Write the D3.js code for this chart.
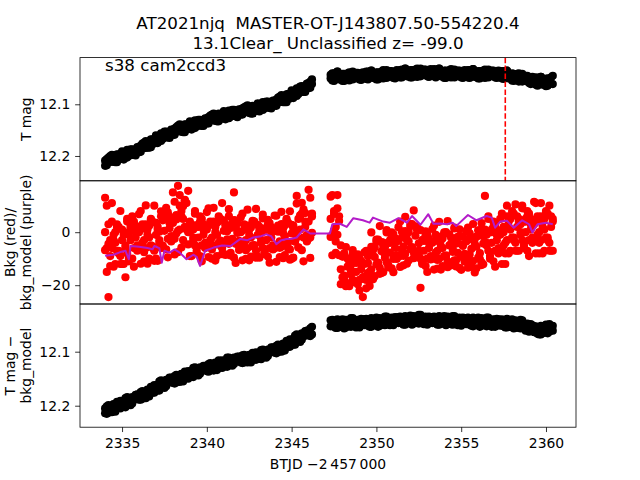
<!DOCTYPE html>
<html><head><meta charset="utf-8">
<script src="https://cdn.jsdelivr.net/npm/d3@7"></script>
<style>body{margin:0;background:#fff}</style>
</head><body><svg id="c" width="640" height="480"></svg>
<script>
// ---------------- data ----------------
const btjd = [
2334.0,2334.1,2334.2,2334.3,2334.4,2334.5,2334.6,2334.7,2334.8,2334.9,
2335.0,2335.1,2335.2,2335.3,2335.4,2335.5,2335.6,2335.7,2335.8,2335.9,
2336.0,2336.1,2336.2,2336.3,2336.4,2336.5,2336.6,2336.7,2336.8,2336.9,
2337.0,2337.1,2337.2,2337.3,2337.4,2337.5,2337.6,2337.7,2337.8,2337.9,
2338.0,2338.1,2338.2,2338.3,2338.4,2338.5,2338.6,2338.7,2338.8,2338.9,
2339.0,2339.1,2339.2,2339.3,2339.4,2339.5,2339.6,2339.7,2339.8,2339.9,
2340.0,2340.1,2340.2,2340.3,2340.4,2340.5,2340.6,2340.7,2340.8,2340.9,
2341.0,2341.1,2341.2,2341.3,2341.4,2341.5,2341.6,2341.7,2341.8,2341.9,
2342.0,2342.1,2342.2,2342.3,2342.4,2342.5,2342.6,2342.7,2342.8,2342.9,
2343.0,2343.1,2343.2,2343.3,2343.4,2343.5,2343.6,2343.7,2343.8,2343.9,
2344.0,2344.1,2344.2,2344.3,2344.4,2344.5,2344.6,2344.7,2344.8,2344.9,
2345.0,2345.1,2345.2,2345.3,2345.4,2345.5,2345.6,2345.7,2345.8,2345.9,
2346.0,2346.1,2346.2,
2347.3,2347.4,2347.5,2347.6,2347.7,2347.8,2347.9,
2348.0,2348.1,2348.2,2348.3,2348.4,2348.5,2348.6,2348.7,2348.8,2348.9,
2349.0,2349.1,2349.2,2349.3,2349.4,2349.5,2349.6,2349.7,2349.8,2349.9,
2350.0,2350.1,2350.2,2350.3,2350.4,2350.5,2350.6,2350.7,2350.8,2350.9,
2351.0,2351.1,2351.2,2351.3,2351.4,2351.5,2351.6,2351.7,2351.8,2351.9,
2352.0,2352.1,2352.2,2352.3,2352.4,2352.5,2352.6,2352.7,2352.8,2352.9,
2353.0,2353.1,2353.2,2353.3,2353.4,2353.5,2353.6,2353.7,2353.8,2353.9,
2354.0,2354.1,2354.2,2354.3,2354.4,2354.5,2354.6,2354.7,2354.8,2354.9,
2355.0,2355.1,2355.2,2355.3,2355.4,2355.5,2355.6,2355.7,2355.8,2355.9,
2356.0,2356.1,2356.2,2356.3,2356.4,2356.5,2356.6,2356.7,2356.8,2356.9,
2357.0,2357.1,2357.2,2357.3,2357.4,2357.5,2357.6,2357.7,2357.8,2357.9,
2358.0,2358.1,2358.2,2358.3,2358.4,2358.5,2358.6,2358.7,2358.8,2358.9,
2359.0,2359.1,2359.2,2359.3,2359.4,2359.5,2359.6,2359.7,2359.8,2359.9,
2360.0,2360.1,2360.2,2360.3,2360.4];

// T mag, two readings per timestamp (upper and lower part of the band)
const tmag = [
12.219,12.206,12.212,12.200,12.211,12.203,12.212,12.197,12.202,12.206,
12.191,12.202,12.194,12.203,12.194,12.187,12.198,12.188,12.199,12.183,
12.193,12.180,12.185,12.174,12.184,12.176,12.184,12.168,12.173,12.176,
12.160,12.170,12.161,12.171,12.161,12.153,12.164,12.154,12.165,12.149,
12.159,12.147,12.153,12.141,12.152,12.145,12.154,12.139,12.144,12.148,
12.133,12.144,12.136,12.146,12.137,12.130,12.141,12.132,12.142,12.127,
12.137,12.125,12.131,12.120,12.131,12.124,12.133,12.118,12.124,12.128,
12.113,12.124,12.116,12.127,12.118,12.111,12.122,12.113,12.125,12.110,
12.120,12.108,12.115,12.104,12.115,12.109,12.118,12.103,12.109,12.113,
12.098,12.109,12.101,12.111,12.102,12.095,12.106,12.097,12.108,12.093,
12.103,12.091,12.096,12.085,12.095,12.088,12.096,12.081,12.085,12.089,
12.073,12.083,12.074,12.084,12.074,12.066,12.076,12.066,12.076,12.060,
12.069,12.056,12.061,
12.050,12.040,12.055,12.045,12.037,12.051,12.046,12.041,12.055,12.042,
12.052,12.038,12.046,12.052,12.042,12.039,12.049,12.044,12.053,12.038,
12.047,12.037,12.052,12.042,12.035,12.048,12.043,12.038,12.052,12.039,
12.049,12.034,12.043,12.049,12.039,12.036,12.046,12.041,12.050,12.034,
12.044,12.034,12.048,12.038,12.031,12.045,12.039,12.034,12.048,12.035,
12.045,12.031,12.040,12.046,12.036,12.033,12.043,12.038,12.047,12.032,
12.042,12.032,12.048,12.038,12.031,12.045,12.040,12.035,12.049,12.036,
12.046,12.032,12.042,12.048,12.038,12.035,12.045,12.040,12.049,12.034,
12.044,12.034,12.049,12.039,12.032,12.046,12.041,12.036,12.050,12.037,
12.047,12.033,12.042,12.048,12.038,12.035,12.045,12.040,12.049,12.035,
12.045,12.036,12.051,12.041,12.035,12.049,12.045,12.040,12.055,12.042,
12.053,12.040,12.050,12.056,12.047,12.045,12.055,12.051,12.061,12.047,
12.057,12.048,12.064,12.054,12.047,12.061,12.056,12.051,12.064,12.051,
12.060,12.045];
const tmagB = [
12.209,12.218,12.203,12.211,12.198,12.211,12.202,12.212,12.197,12.202,
12.194,12.207,12.200,12.188,12.200,12.197,12.187,12.198,12.189,12.185,
12.183,12.192,12.176,12.185,12.171,12.184,12.174,12.183,12.168,12.172,
12.163,12.175,12.167,12.156,12.167,12.163,12.153,12.164,12.155,12.151,
12.149,12.159,12.144,12.152,12.139,12.153,12.144,12.154,12.139,12.144,
12.136,12.149,12.142,12.131,12.143,12.140,12.130,12.142,12.132,12.129,
12.127,12.137,12.122,12.131,12.118,12.132,12.123,12.133,12.119,12.124,
12.116,12.129,12.122,12.112,12.124,12.121,12.111,12.123,12.115,12.112,
12.110,12.120,12.106,12.115,12.102,12.117,12.108,12.118,12.104,12.109,
12.101,12.114,12.107,12.096,12.108,12.105,12.095,12.107,12.098,12.095,
12.093,12.103,12.087,12.096,12.082,12.096,12.086,12.096,12.080,12.085,
12.076,12.088,12.080,12.069,12.080,12.076,12.065,12.076,12.066,12.062,
12.059,12.068,12.052,
12.043,12.054,12.040,12.050,12.037,12.052,12.044,12.055,12.041,12.047,
12.040,12.054,12.047,12.037,12.050,12.048,12.039,12.052,12.044,12.042,
12.040,12.051,12.037,12.047,12.035,12.049,12.041,12.052,12.038,12.044,
12.037,12.050,12.044,12.034,12.047,12.045,12.036,12.049,12.041,12.038,
12.037,12.048,12.033,12.043,12.031,12.046,12.037,12.048,12.034,12.040,
12.033,12.047,12.041,12.031,12.044,12.042,12.033,12.046,12.038,12.036,
12.035,12.046,12.033,12.043,12.031,12.046,12.038,12.049,12.035,12.041,
12.034,12.048,12.043,12.033,12.046,12.044,12.035,12.048,12.040,12.038,
12.037,12.048,12.034,12.044,12.032,12.047,12.039,12.050,12.036,12.042,
12.035,12.049,12.043,12.033,12.046,12.044,12.035,12.048,12.040,12.039,
12.038,12.050,12.036,12.046,12.035,12.050,12.043,12.054,12.041,12.047,
12.041,12.056,12.051,12.041,12.055,12.054,12.045,12.059,12.052,12.051,
12.050,12.062,12.049,12.059,12.047,12.062,12.054,12.065,12.050,12.056,
12.048,12.061];

// background flux, three readings per timestamp
const bkg = [
13,-15,-24.5,-9,11,-13,0,2,-7,-12,
1,-12,-17,5,-10,1,6,-13,2.4,-6.4,
6.8,-11.9,1.3,-7.5,10.1,-11.9,2.4,4.6,-5.3,-10.8,
3.5,-10.8,0.2,7.9,-5.1,4.8,9.2,-9.5,5.9,-2.9,
15,-8.4,4.8,17.5,14,-5.8,9.8,12.2,1.4,-4.6,
4,-9,1,8,-7,2,6,-11,3,-5,
7.6,-9.4,2.8,-6.5,9.2,-10.7,3.6,4.1,-3.2,-8.3,
4.5,-8.6,0.4,8.7,-7.8,2.5,15,-11.6,3.3,-4.4,
5.6,-10.6,0.9,-6.8,8.5,-10.6,1.8,3.7,-4.9,-9.6,
2.8,-9.6,-0.1,6.6,-7.7,0.9,4.7,-11.5,1.8,-5.8,
6.3,-11.2,0.2,-5.9,7.7,-9.8,2.6,4.5,-3.8,-10.4,
2.8,-9.6,-0.1,13.7,-5.8,5.9,11.1,-11,7.2,-3.2,
16,-9.7,5.9,
13.4,-8.7,6.9,-3.5,14,-8.7,-5,-9.2,-16.4,-20.4,
-10,-20.4,-12.4,-6.8,-18.8,-11.6,-8.4,-22,-10.8,-24.5,
-7.6,-21.2,-11.6,-18,-0.1,-17.8,-5.8,-3.7,-11.5,-15.7,
-3.7,-15.1,-5.8,0.8,-12.4,-4,-0.1,-15.1,-2.3,-9.2,
1.9,-13.1,-2,-8.9,5.8,-11.9,0.1,2.2,-5.6,-9.8,
2.2,-9.2,-4.2,-21,-11.4,-3.3,0.3,-15,-2.4,-9.6,
1.2,-14.1,-3.3,-10.5,3.9,-14.1,-2.4,-0.6,-8.7,-13.2,
-0.8,-12.5,-5.1,1.4,-10.6,-4.2,1.1,-14.2,-1.6,-8.8,
0.5,-13.4,-2.6,-11.2,3.1,-15.2,-1.7,-1.3,-7.9,-12.4,
-1.5,13.7,-1,6,-9,0,4,-13,1,-7,
5,-12,0,-8,10,-8,5,7,-2,-7,
6,-7,3,10,-5,4,8,-9,5,-3,
11.5,-8,4,-4,11,-8,5,7,-2,-7,
6,-7];
const bkgB = [
-6.8,10,-4.4,-12.8,4,-3,-12,3,-8,8,
-12,-1,-5,4,-11,2,-10,4,-2,-7,
-6,8,-4,-11,3,-1,-10,5,-6,10,
-10,1,-3,6,-5.5,5.5,-6.5,7.5,1.5,-3.5,
-2.5,11.5,-0.5,-7.5,10,6,-3,12,1,15.6,
-9,2,-2,7,-8,3,-9,5,-1,-6,
-5,9,-3,-10,4,0,-9,6,-5,11,
-8.2,2.9,-2.7,6.1,-8.8,3.7,-9.6,4.4,-0.3,-6.7,
-5.6,7,-3.8,-10.1,2.5,-1.1,-9.2,4.3,-5.6,8.8,
-9.2,0.7,-2.9,5.2,-8.3,1.6,-9.2,3.4,-2,-6.5,
-6.1,6.2,-4.5,-9.4,3.1,-0.4,-8.6,5.0,-6.2,7.9,
-10.0,1.4,-3.5,10.8,-5.7,6.4,-6.8,8.6,2,-3.5,
-2.4,13,-0.2,
-1.8,14,0.6,-7.8,9,4.2,-19.6,-9.1,-16.8,-5.6,
-19.6,-11.9,-14.7,-8.4,-18.9,-11.2,-19.6,-9.8,-14,-17.5,
-16.8,-7,-15.4,-20.3,-5.5,-8.8,-16.6,-2.8,-12.4,2.3,
-15.4,-5.2,-8.5,-0.1,-13.3,-3.1,-13.6,-0.7,-5.9,-10.1,
-8.9,4,-6.5,-12.5,0.4,-2.9,-10.7,3.1,-6.5,8.2,
-9.5,0.7,-6.9,0.8,-12,-2.6,-12.8,-0.9,-6,-10.3,
-9.4,2.5,-7.7,-13.7,-1.8,-5.2,-12.8,-0.1,-9.4,4.2,
-11.9,-4.4,-6.1,1.7,-12.9,-1.8,-13.5,-1.6,-5.2,-11.1,
-8.6,1.7,-8.4,-12.9,-2.5,-4.4,-13.6,0.7,-10.2,3.4,
-12.1,0,-4,5,-10,1,-11,3,-3,-8,
-7,7,-5,-12,6,2,-7,8,-3,10.5,
-7,4,0,9,-6,5,-7,7,1,-4,
-3,11,-1,-8,6,2,-7,8,-3,10,
-7,4];
const bkgC = [
0,-6,3,-3,-6,-1,-4,-7,2,-9,
-3,0,-6,-8,-1,-3,3,-6,0,-5,
0,-6,3,-3,-6,1,-2,-5,4,-7,
-1,2,-4,-6,4.5,0.5,6.5,-2.5,3.5,-1.5,
3.5,-2.5,6.5,0.5,1,8,5,2,11,0,
0,3,-3,-5,2,-2,4,-5,1,-4,
1,-5,4,-2,-5,2,-1,-4,5,-6,
0.5,2.4,-3.6,-4.4,1.6,-2.5,4.6,-4.4,0.6,-3.3,
0,-6,3,-3,-6,1,-2,-5,4,-7,
-1,2,-4,-6,1,-3,3,-6,0,-5,
0.5,-5.5,2.5,-3.5,-5.5,1.5,-1.5,-4.5,3.5,-6.5,
-0.5,2.5,-3.5,-2,5,1,7,-2,4,-1,
4,-2,7,
5,-1,8,2,-1,6,-14,-17,-8,-19,
-13,-10,-16,-18,-11,-15,-9,-18,-12,-17,
-12,-18,-9,-15,-14,-6.7,-9.4,-12.1,-2.8,-13.5,
-7.2,-3.9,-9.6,-11.3,-4,-7.7,-1.4,-10.1,-3.9,-8.6,
-3.3,-9,0.3,-5.4,-8.1,-0.8,-3.5,-6.2,3.1,-7.6,
-1.3,2,-8,-10,-3,-7,-1,-10,-4,-9,
-4,-10,-1,-7,-10,-3,-6,-9,0,-11,
-5,-2,-7.4,-10.6,-2.2,-7.8,-1.6,-9.3,-4.6,-8.2,
-3.5,-10.8,-0.4,-6.3,-10.9,-2.4,-5.5,-9.6,0.8,-11.4,
-4.3,1,-5,-7,0,-4,2,-7,-1,-6,
-1,-7,2,-4,-3,4,1,-2,7,-4,
2,5,-1,-3,4,0,6,-3,3,-2,
3,-3,6,0,-3,4,1,-2,7,-4,
2,5];

const modelT = [2334.0,2334.5,2334.9,2335.2,2335.4,2335.5,2336.0,2336.5,2336.8,2336.9,2337.2,2337.34,2337.5,2337.8,2338.1,2338.4,2338.8,2339.2,2339.4,2339.6,2339.9,2340.4,2340.9,2341.4,2341.96,2342.4,2342.74,2343.2,2343.5,2343.8,2344.1,2344.4,2344.7,2345.0,2345.3,2345.7,2346.1,2346.2,2347.26,2347.4,2347.85,2348.25,2348.64,2349.2,2349.6,2349.8,2350.4,2350.8,2351.3,2351.8,2352.1,2352.6,2353.06,2353.36,2353.8,2354.15,2354.5,2354.7,2355.4,2355.9,2356.5,2356.8,2357.0,2357.3,2357.7,2358.1,2358.6,2359.0,2359.2,2359.5,2360.0,2360.4];
const modelV = [-8.9,-8.5,-7.5,-7,-10.2,-5.2,-5.5,-6,-6.4,-5.2,-6,-11.5,-7,-7.7,-6.5,-7.7,-10.2,-8.5,-9.3,-12.7,-7,-5.8,-5,-5.2,-2.6,-3,-2,-1.5,-0.8,-1.5,-4.5,-3,-2.6,-2.5,-2,1.1,-0.5,-0.5,-0.5,3.0,3.2,2,5.3,4.5,3.6,5.5,4,3.6,5.3,3.6,6.1,2.8,6.8,3.2,3.3,3.0,3.6,2.3,6.5,4.5,6.1,5.5,1.7,4,4.3,1.7,4.5,3,-0.1,3,3.6,3];

// T mag - bkg_model, two readings per timestamp
const detrended = [
12.205,12.215,12.199,12.208,12.204,12.197,12.211,12.199,12.204,12.191,
12.199,12.191,12.203,12.184,12.196,12.190,12.196,12.185,12.188,12.179,
12.180,12.189,12.173,12.182,12.178,12.170,12.183,12.171,12.176,12.162,
12.170,12.161,12.172,12.153,12.165,12.158,12.164,12.154,12.156,12.148,
12.149,12.159,12.143,12.152,12.148,12.141,12.155,12.143,12.149,12.136,
12.144,12.135,12.147,12.129,12.141,12.135,12.141,12.131,12.134,12.126,
12.127,12.137,12.121,12.131,12.127,12.120,12.134,12.122,12.129,12.116,
12.124,12.116,12.128,12.111,12.123,12.117,12.123,12.114,12.117,12.109,
12.111,12.121,12.106,12.116,12.112,12.106,12.120,12.108,12.114,12.101,
12.110,12.102,12.114,12.096,12.108,12.102,12.108,12.098,12.100,12.092,
12.093,12.103,12.087,12.096,12.092,12.085,12.098,12.086,12.091,12.077,
12.085,12.076,12.087,12.068,12.080,12.073,12.078,12.068,12.070,12.061,
12.061,12.071,12.054,
12.042,12.052,12.046,12.056,12.040,12.049,12.054,12.044,12.057,12.041,
12.050,12.044,12.054,12.038,12.052,12.047,12.042,12.055,12.045,12.040,
12.040,12.050,12.044,12.054,12.038,12.046,12.051,12.041,12.054,12.038,
12.046,12.041,12.051,12.035,12.049,12.043,12.038,12.051,12.042,12.037,
12.036,12.046,12.040,12.050,12.034,12.042,12.047,12.037,12.050,12.034,
12.043,12.038,12.048,12.032,12.046,12.041,12.036,12.050,12.041,12.036,
12.036,12.046,12.040,12.050,12.034,12.043,12.048,12.038,12.051,12.035,
12.044,12.040,12.050,12.034,12.048,12.043,12.038,12.052,12.043,12.038,
12.038,12.048,12.042,12.052,12.037,12.046,12.051,12.041,12.054,12.038,
12.047,12.042,12.053,12.037,12.051,12.046,12.041,12.054,12.045,12.040,
12.041,12.051,12.045,12.055,12.039,12.049,12.054,12.044,12.057,12.042,
12.051,12.047,12.057,12.042,12.057,12.053,12.049,12.063,12.055,12.051,
12.053,12.064,12.059,12.068,12.052,12.060,12.065,12.054,12.066,12.049,
12.058,12.052];
const detrendedB = [
12.214,12.201,12.213,12.202,12.212,12.198,12.204,12.193,12.203,12.205,
12.193,12.202,12.186,12.196,12.190,12.199,12.184,12.189,12.180,12.185,
12.189,12.175,12.187,12.176,12.186,12.171,12.176,12.165,12.175,12.176,
12.164,12.172,12.155,12.165,12.159,12.167,12.152,12.158,12.148,12.154,
12.158,12.145,12.157,12.146,12.156,12.142,12.148,12.137,12.148,12.150,
12.138,12.146,12.130,12.141,12.135,12.144,12.129,12.135,12.126,12.132,
12.136,12.123,12.135,12.125,12.135,12.121,12.127,12.116,12.128,12.130,
12.118,12.127,12.111,12.123,12.117,12.126,12.111,12.118,12.109,12.115,
12.120,12.107,12.120,12.110,12.120,12.107,12.113,12.102,12.113,12.115,
12.104,12.113,12.097,12.108,12.102,12.111,12.096,12.102,12.092,12.098,
12.102,12.089,12.101,12.090,12.100,12.086,12.091,12.080,12.090,12.091,
12.079,12.087,12.070,12.080,12.074,12.082,12.066,12.072,12.062,12.067,
12.070,12.057,12.068,
12.053,12.041,12.054,12.045,12.056,12.043,12.050,12.040,12.052,12.055,
12.044,12.053,12.038,12.050,12.045,12.055,12.041,12.048,12.039,12.046,
12.051,12.039,12.052,12.043,12.054,12.040,12.047,12.037,12.049,12.052,
12.040,12.050,12.035,12.047,12.042,12.051,12.037,12.044,12.036,12.043,
12.047,12.035,12.048,12.039,12.050,12.036,12.043,12.033,12.045,12.048,
12.037,12.047,12.032,12.044,12.039,12.049,12.035,12.043,12.035,12.042,
12.047,12.035,12.048,12.039,12.050,12.037,12.044,12.034,12.046,12.049,
12.038,12.049,12.034,12.046,12.041,12.051,12.037,12.045,12.037,12.044,
12.049,12.037,12.050,12.041,12.053,12.040,12.047,12.037,12.049,12.052,
12.041,12.051,12.037,12.049,12.044,12.054,12.040,12.047,12.039,12.046,
12.052,12.040,12.053,12.044,12.055,12.043,12.050,12.040,12.052,12.056,
12.045,12.056,12.041,12.054,12.050,12.061,12.048,12.056,12.049,12.057,
12.064,12.053,12.067,12.057,12.068,12.054,12.061,12.050,12.061,12.063,
12.052,12.061];

const eventTime = [2357.6];
const titleLines = ["AT2021njq  MASTER-OT-J143807.50-554220.4", "13.1Clear_ Unclassified z= -99.0"];
const sectorLabel = "s38 cam2ccd3";
const xTicks = [2335, 2340, 2345, 2350, 2355, 2360];
const magTicks = [12.1, 12.2];
const bkgTicks = [0, -20];
const yLabels = [["T mag"], ["Bkg (red)/", "bkg_model (purple)"], ["T mag \u2212", "bkg_model"]];
const xLabel = "BTJD \u22122\u2009457\u2009000";

// ---------------- layout ----------------
const FONT = "DejaVu Sans, sans-serif";
const L = 80, R = 576, T = 57.6, B = 427.2, PH = (B - T) / 3;
const TK = 4.86, PAD = 4.86;
const svg = d3.select("#c");
const x = d3.scaleLinear().domain([2332.52, 2361.77]).range([L, R]);

const panels = [
  {top: T, y: d3.scaleLinear().domain([12.0097, 12.248]).range([T, T + PH]), ticks: magTicks, fmt: d3.format(".1f"),
   sets: [tmag, tmagB], color: "#000"},
  {top: T + PH, y: d3.scaleLinear().domain([19.4, -27.1]).range([T + PH, T + 2 * PH]), ticks: bkgTicks,
   fmt: d => d < 0 ? "\u2212" + Math.abs(d) : String(d), sets: [bkg, bkgB, bkgC], color: "#ff0000"},
  {top: T + 2 * PH, y: d3.scaleLinear().domain([12.0117, 12.2398]).range([T + 2 * PH, B]), ticks: magTicks, fmt: d3.format(".1f"),
   sets: [detrended, detrendedB], color: "#000"}
];

const defs = svg.append("defs");
const R0 = 4.1;
panels.forEach((p, k) => {
  defs.append("clipPath").attr("id", "clip" + k)
    .append("rect").attr("x", L).attr("y", p.top).attr("width", R - L).attr("height", PH);
  const g = svg.append("g").attr("clip-path", `url(#clip${k})`);
  p.g = g;
  p.sets.forEach(vals => {
    g.append("g").selectAll("circle").data(btjd).join("circle")
      .attr("cx", d => x(d)).attr("cy", (d, i) => p.y(vals[i])).attr("r", R0).attr("fill", p.color);
  });
});

panels[0].g.selectAll("line.ev").data(eventTime).join("line").attr("class", "ev")
  .attr("x1", d => x(d)).attr("x2", d => x(d)).attr("y1", T).attr("y2", T + PH)
  .attr("stroke", "#ff0000").attr("stroke-width", 1.6).attr("stroke-dasharray", "5.55,2.4");

panels[1].g.append("path").datum(modelT)
  .attr("d", d3.line().x(d => x(d)).y((d, i) => panels[1].y(modelV[i])))
  .attr("fill", "none").attr("stroke", "#b31bc9").attr("stroke-width", 2).attr("stroke-linejoin", "round");

// axes
panels.forEach((p, k) => {
  const ax = svg.append("g").attr("transform", `translate(${L},0)`)
    .call(d3.axisLeft(p.y).tickValues(p.ticks).tickFormat(p.fmt).tickSize(TK).tickPadding(PAD));
  ax.select(".domain").remove();
  ax.selectAll("line").attr("stroke", "#000").attr("stroke-width", 0.8);
  ax.selectAll("text").attr("font-family", FONT).attr("font-size", "13.9px").attr("fill", "#000");
  svg.append("rect").attr("x", L).attr("y", p.top).attr("width", R - L).attr("height", PH)
    .attr("fill", "none").attr("stroke", "#000").attr("stroke-width", 0.8);
  const lines = yLabels[k];
  const cy = p.top + PH / 2;
  lines.forEach((s, j) => {
    const bx = 30.5 - (lines.length - 1 - j) * 16;
    svg.append("text").attr("transform", `translate(${bx},${cy}) rotate(-90)`)
      .attr("text-anchor", "middle").attr("font-family", FONT).attr("font-size", "13.9px").text(s);
  });
});

const xa = svg.append("g").attr("transform", `translate(0,${B})`)
  .call(d3.axisBottom(x).tickValues(xTicks).tickFormat(d3.format("d")).tickSize(TK).tickPadding(PAD));
xa.select(".domain").remove();
xa.selectAll("line").attr("stroke", "#000").attr("stroke-width", 0.8);
xa.selectAll("text").attr("font-family", FONT).attr("font-size", "13.9px").attr("fill", "#000").attr("dy", "0.8em");

svg.append("text").attr("x", (L + R) / 2).attr("y", 469).attr("text-anchor", "middle")
  .attr("font-family", FONT).attr("font-size", "13.9px").text(xLabel);

titleLines.forEach((s, j) => {
  svg.append("text").attr("x", (L + R) / 2).attr("y", 29 + j * 20.3).attr("text-anchor", "middle")
    .style("white-space", "pre").attr("font-family", FONT).attr("font-size", "16.7px").text(s);
});
svg.append("text").attr("x", 105).attr("y", 70.5).attr("font-family", FONT).attr("font-size", "16.7px").text(sectorLabel);
</script></body></html>
